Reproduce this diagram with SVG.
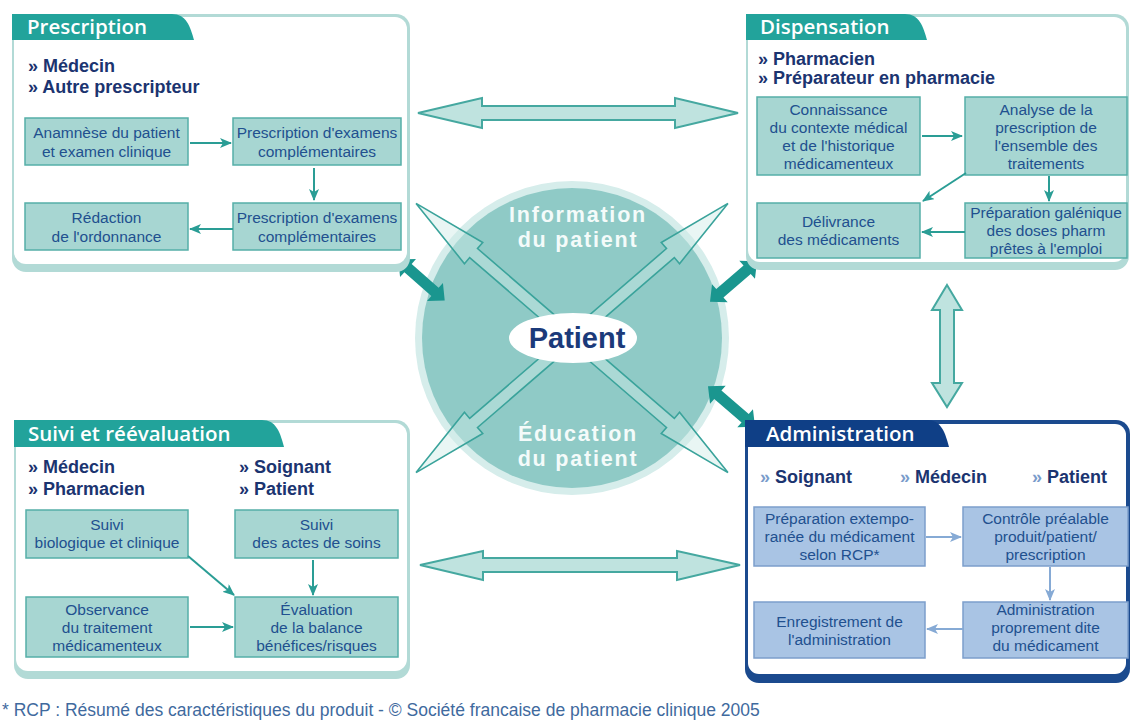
<svg xmlns="http://www.w3.org/2000/svg" xmlns:xlink="http://www.w3.org/1999/xlink" width="1132" height="725" viewBox="0 0 1132 725">
<style>
.frameT{fill:#b2dad6}
.frameB{fill:#1b4a8e}
.inner{fill:#ffffff}
.tabT{fill:#22a39b}
.tabB{fill:#0f3f86}
.tabtxt{font-family:"Open Sans","Liberation Sans",sans-serif;font-weight:600;font-size:20.5px;fill:#ffffff}
.who{font-family:"Liberation Sans",Arial,sans-serif;font-weight:bold;font-size:18px;fill:#1b3470}
.raq{fill:#1b3470}
.raqB{fill:#7a9ccb}
.boxT{fill:#a7d6d2;stroke:#55afa8;stroke-width:1.5}
.boxB{fill:#a9c4e4;stroke:#7c9ecb;stroke-width:1.5}
.bt{font-family:"Liberation Sans",Arial,sans-serif;font-size:15.5px;fill:#21508f;text-anchor:middle}
.lnT{stroke:#2a9d95;stroke-width:2;fill:none;marker-end:url(#ahT)}
.lnB{stroke:#86aad5;stroke-width:2;fill:none;marker-end:url(#ahB)}
.big{fill:#bfe3df;stroke:#45a8a0;stroke-width:2}
.diag{fill:#cfeae7;fill-opacity:0.45;stroke:#3aa39b;stroke-width:1.6}
.thick{fill:#1a968f}
.ctxt{font-family:"Liberation Sans",Arial,sans-serif;font-weight:bold;font-size:21.5px;letter-spacing:1.8px;fill:#f4fbfa;text-anchor:middle}
.foot{font-family:"Liberation Sans",Arial,sans-serif;font-size:17.5px;fill:#3f6a9e}
</style>
<defs>
<marker id="ahT" markerWidth="12" markerHeight="10" refX="11" refY="5" orient="auto" markerUnits="userSpaceOnUse">
<path d="M0,0 L12,5 L0,10 L3,5 Z" fill="#2a9d95"/>
</marker>
<marker id="ahB" markerWidth="12" markerHeight="10" refX="11" refY="5" orient="auto" markerUnits="userSpaceOnUse">
<path d="M0,0 L12,5 L0,10 L3,5 Z" fill="#86aad5"/>
</marker>
<path id="diagArrow" d="M-206,0 L-130,-14 L-130,-6 L130,-6 L130,-14 L206,0 L130,14 L130,6 L-130,6 L-130,14 Z"/>
<path id="thickArrow" d="M-31,0 L-18,-12 L-18,-5.5 L18,-5.5 L18,-12 L31,0 L18,12 L18,5.5 L-18,5.5 L-18,12 Z"/>
</defs>
<rect width="1132" height="725" fill="#ffffff"/>

<!-- Center circle -->
<g id="patient-circle">
<circle cx="572" cy="338" r="157" fill="#d6edeb"/>
<circle cx="572" cy="338" r="150" fill="#8fcac6"/>
<text class="ctxt" x="578" y="222">Information</text>
<text class="ctxt" x="578" y="247">du patient</text>
<text class="ctxt" x="578" y="441">Éducation</text>
<text class="ctxt" x="578" y="466">du patient</text>
</g>

<!-- Connectors -->
<g id="connectors">
<path class="big" d="M418,113 L482,98 L482,106 L675,106 L675,98 L738,113 L675,128 L675,120 L482,120 L482,128 Z"/>
<path class="big" d="M420,565 L483,551 L483,558 L677,558 L677,551 L740,565 L677,580 L677,572 L483,572 L483,580 Z"/>
<path class="big" d="M947,285 L962,310 L954,310 L954,383 L962,383 L947,407 L932,383 L940,383 L940,310 L932,310 Z"/>
<use xlink:href="#diagArrow" class="diag" transform="translate(572,338) rotate(40.8)"/>
<use xlink:href="#diagArrow" class="diag" transform="translate(572,338) rotate(-40.8)"/>
<use xlink:href="#thickArrow" class="thick" transform="translate(421.5,280) rotate(41.5)"/>
<use xlink:href="#thickArrow" class="thick" transform="translate(733.5,281.5) rotate(-40.7)"/>
<use xlink:href="#thickArrow" class="thick" transform="translate(731.5,406.5) rotate(40.7)"/>
</g>

<g id="patient">
<ellipse cx="573" cy="338" rx="64" ry="25" fill="#ffffff"/>
<text x="577" y="348" text-anchor="middle" font-family="'Liberation Sans',Arial,sans-serif" font-weight="bold" font-size="29" fill="#1b3a7a">Patient</text>
</g>

<!-- Prescription -->
<g id="prescription">
<rect class="frameT" x="12" y="14" width="398" height="258" rx="14"/>
<rect class="inner" x="14" y="17" width="393" height="247" rx="12"/>
<path class="tabT" d="M12,14 H172 C186,14 190,26 194,40 H12 Z"/>
<text class="tabtxt" x="27" y="34">Prescription</text>
<text class="who" x="28" y="72"><tspan class="raq">»</tspan> Médecin</text>
<text class="who" x="28" y="93"><tspan class="raq">»</tspan> Autre prescripteur</text>
<g id="p-anamnese"><rect class="boxT" x="25" y="118" width="163" height="47"/>
<text class="bt" x="106.5" y="138">Anamnèse du patient</text><text class="bt" x="106.5" y="157">et examen clinique</text></g>
<g id="p-exam1"><rect class="boxT" x="233" y="118" width="168" height="47"/>
<text class="bt" x="317" y="138">Prescription d'examens</text><text class="bt" x="317" y="157">complémentaires</text></g>
<g id="p-redaction"><rect class="boxT" x="25" y="203" width="163" height="47"/>
<text class="bt" x="106.5" y="223">Rédaction</text><text class="bt" x="106.5" y="242">de l'ordonnance</text></g>
<g id="p-exam2"><rect class="boxT" x="233" y="203" width="168" height="47"/>
<text class="bt" x="317" y="223">Prescription d'examens</text><text class="bt" x="317" y="242">complémentaires</text></g>
<line class="lnT" x1="190" y1="143" x2="231" y2="143"/>
<line class="lnT" x1="314" y1="168" x2="314" y2="200"/>
<line class="lnT" x1="233" y1="229" x2="190" y2="229"/>
</g>

<!-- Dispensation -->
<g id="dispensation">
<rect class="frameT" x="746" y="14" width="383" height="256" rx="14"/>
<rect class="inner" x="748" y="17" width="378" height="245" rx="12"/>
<path class="tabT" d="M746,14 H905 C919,14 923,26 927,40 H746 Z"/>
<text class="tabtxt" x="760" y="34">Dispensation</text>
<text class="who" x="758" y="65"><tspan class="raq">»</tspan> Pharmacien</text>
<text class="who" x="758" y="84"><tspan class="raq">»</tspan> Préparateur en pharmacie</text>
<g id="d-connaissance"><rect class="boxT" x="757" y="97" width="163" height="78"/>
<text class="bt" x="838.5" y="115">Connaissance</text><text class="bt" x="838.5" y="133">du contexte médical</text><text class="bt" x="838.5" y="151">et de l'historique</text><text class="bt" x="838.5" y="169">médicamenteux</text></g>
<g id="d-analyse"><rect class="boxT" x="965" y="97" width="162" height="78"/>
<text class="bt" x="1046" y="115">Analyse de la</text><text class="bt" x="1046" y="133">prescription de</text><text class="bt" x="1046" y="151">l'ensemble des</text><text class="bt" x="1046" y="169">traitements</text></g>
<g id="d-delivrance"><rect class="boxT" x="757" y="203" width="163" height="55"/>
<text class="bt" x="838.5" y="227">Délivrance</text><text class="bt" x="838.5" y="245">des médicaments</text></g>
<g id="d-preparation"><rect class="boxT" x="965" y="203" width="162" height="55"/>
<text class="bt" x="1046" y="218">Préparation galénique</text><text class="bt" x="1046" y="236">des doses pharm</text><text class="bt" x="1046" y="254">prêtes à l'emploi</text></g>
<line class="lnT" x1="922" y1="136" x2="962" y2="136"/>
<line class="lnT" x1="966" y1="173" x2="923" y2="201"/>
<line class="lnT" x1="1049" y1="176" x2="1049" y2="201"/>
<line class="lnT" x1="965" y1="232" x2="922" y2="232"/>
</g>

<!-- Suivi et réévaluation -->
<g id="suivi">
<rect class="frameT" x="14" y="420" width="396" height="259" rx="14"/>
<rect class="inner" x="16" y="423" width="391" height="248" rx="12"/>
<path class="tabT" d="M14,420 H262 C276,420 280,432 284,447 H14 Z"/>
<text class="tabtxt" x="28" y="441">Suivi et réévaluation</text>
<text class="who" x="28" y="473"><tspan class="raq">»</tspan> Médecin</text>
<text class="who" x="28" y="495"><tspan class="raq">»</tspan> Pharmacien</text>
<text class="who" x="239" y="473"><tspan class="raq">»</tspan> Soignant</text>
<text class="who" x="239" y="495"><tspan class="raq">»</tspan> Patient</text>
<g id="s-biologique"><rect class="boxT" x="26" y="510" width="162" height="48"/>
<text class="bt" x="107" y="530">Suivi</text><text class="bt" x="107" y="548">biologique et clinique</text></g>
<g id="s-actes"><rect class="boxT" x="235" y="510" width="163" height="48"/>
<text class="bt" x="316.5" y="530">Suivi</text><text class="bt" x="316.5" y="548">des actes de soins</text></g>
<g id="s-observance"><rect class="boxT" x="26" y="597" width="162" height="60"/>
<text class="bt" x="107" y="615">Observance</text><text class="bt" x="107" y="633">du traitement</text><text class="bt" x="107" y="651">médicamenteux</text></g>
<g id="s-evaluation"><rect class="boxT" x="235" y="597" width="163" height="60"/>
<text class="bt" x="316.5" y="615">Évaluation</text><text class="bt" x="316.5" y="633">de la balance</text><text class="bt" x="316.5" y="651">bénéfices/risques</text></g>
<line class="lnT" x1="188" y1="556" x2="234" y2="595"/>
<line class="lnT" x1="313" y1="560" x2="313" y2="595"/>
<line class="lnT" x1="190" y1="627" x2="233" y2="627"/>
</g>

<!-- Administration -->
<g id="administration">
<rect class="frameB" x="745" y="420" width="385" height="263" rx="14"/>
<rect class="inner" x="748" y="424" width="378" height="250" rx="11"/>
<path class="tabB" d="M745,420 H927 C941,420 945,432 949,447 H745 Z"/>
<text class="tabtxt" x="766" y="441">Administration</text>
<text class="who" x="760" y="483"><tspan class="raqB">»</tspan> Soignant</text>
<text class="who" x="900" y="483"><tspan class="raqB">»</tspan> Médecin</text>
<text class="who" x="1032" y="483"><tspan class="raqB">»</tspan> Patient</text>
<g id="a-preparation"><rect class="boxB" x="754" y="507" width="171" height="59"/>
<text class="bt" x="839.5" y="524">Préparation extempo-</text><text class="bt" x="839.5" y="542">ranée du médicament</text><text class="bt" x="839.5" y="560">selon RCP*</text></g>
<g id="a-controle"><rect class="boxB" x="963" y="507" width="165" height="59"/>
<text class="bt" x="1045.5" y="524">Contrôle préalable</text><text class="bt" x="1045.5" y="542">produit/patient/</text><text class="bt" x="1045.5" y="560">prescription</text></g>
<g id="a-enregistrement"><rect class="boxB" x="754" y="602" width="171" height="56"/>
<text class="bt" x="839.5" y="627">Enregistrement de</text><text class="bt" x="839.5" y="645">l'administration</text></g>
<g id="a-administration"><rect class="boxB" x="963" y="602" width="165" height="56"/>
<text class="bt" x="1045.5" y="615">Administration</text><text class="bt" x="1045.5" y="633">proprement dite</text><text class="bt" x="1045.5" y="651">du médicament</text></g>
<line class="lnB" x1="926" y1="537" x2="961" y2="537"/>
<line class="lnB" x1="1050" y1="567" x2="1050" y2="600"/>
<line class="lnB" x1="963" y1="629" x2="927" y2="629"/>
</g>

<text class="foot" x="2" y="716">* RCP : Résumé des caractéristiques du produit  - © Société francaise de pharmacie clinique 2005</text>
</svg>
